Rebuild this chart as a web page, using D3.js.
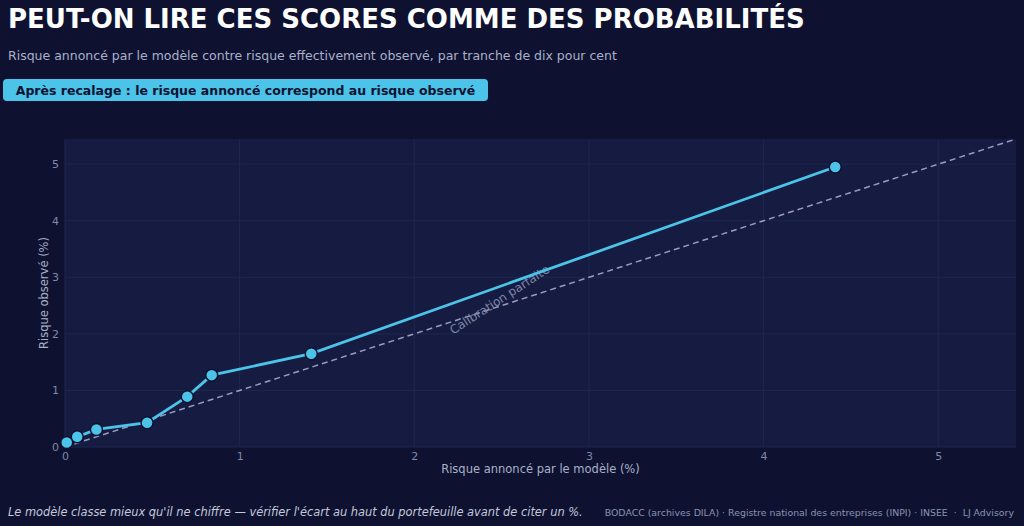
<!DOCTYPE html>
<html>
<head>
<meta charset="utf-8">
<script src="https://cdn.jsdelivr.net/npm/d3@7"></script>
<style>
  html, body { margin: 0; padding: 0; background: #0e1230; }
  svg { display: block; font-family: "DejaVu Sans", sans-serif; }
</style>
</head>
<body>
<div id="canvas"></div>
<script>
// Calibration deciles: announced risk vs observed risk (%)
const announced = [0.01, 0.07, 0.18, 0.47, 0.70, 0.84, 1.41, 4.41];
const observed  = [0.08, 0.18, 0.31, 0.43, 0.89, 1.27, 1.65, 4.95];
const xTicks = [0, 1, 2, 3, 4, 5];
const yTicks = [0, 1, 2, 3, 4, 5];

const W = 1024, H = 526;
const margin = { left: 65, right: 8, top: 139, bottom: 79 };
const ACCENT = "#4cc3e8";

const svg = d3.select("#canvas").append("svg").attr("width", W).attr("height", H);
svg.append("rect").attr("width", W).attr("height", H).attr("fill", "#0e1230");

// Titles
svg.append("text").attr("x", 8).attr("y", 28)
    .attr("fill", "#ffffff").attr("font-size", 26).attr("font-weight", "bold")
    .text("PEUT-ON LIRE CES SCORES COMME DES PROBABILITÉS");
svg.append("text").attr("x", 8).attr("y", 60)
    .attr("fill", "#a9b0c9").attr("font-size", 12.5)
    .text("Risque annoncé par le modèle contre risque effectivement observé, par tranche de dix pour cent");

// Badge
svg.append("rect").attr("x", 3).attr("y", 79).attr("width", 485).attr("height", 22)
    .attr("rx", 4).attr("fill", ACCENT);
svg.append("text").attr("x", 245.5).attr("y", 94.5).attr("text-anchor", "middle")
    .attr("fill", "#0e1230").attr("font-size", 12.5).attr("font-weight", "bold")
    .text("Après recalage : le risque annoncé correspond au risque observé");

// Scales
const maxV = d3.max(observed) * 1.1;
const x = d3.scaleLinear().domain([0, maxV]).range([margin.left, W - margin.right]);
const y = d3.scaleLinear().domain([0, maxV]).range([H - margin.bottom, margin.top]);

// Plot background
svg.append("rect")
    .attr("x", x(0)).attr("y", y(maxV))
    .attr("width", x(maxV) - x(0)).attr("height", y(0) - y(maxV))
    .attr("fill", "#161c41");

// Grid
svg.append("g").selectAll("line").data(xTicks).join("line")
    .attr("x1", d => x(d)).attr("x2", d => x(d))
    .attr("y1", y(0)).attr("y2", y(maxV))
    .attr("stroke", "#1f274f").attr("stroke-width", 1);
svg.append("g").selectAll("line").data(yTicks).join("line")
    .attr("x1", x(0)).attr("x2", x(maxV))
    .attr("y1", d => y(d)).attr("y2", d => y(d))
    .attr("stroke", "#1f274f").attr("stroke-width", 1);

// Axes
const xAxis = svg.append("g").attr("transform", `translate(0,${y(0)})`)
    .call(d3.axisBottom(x).tickValues(xTicks).tickSize(0).tickPadding(5).tickFormat(d3.format("d")));
const yAxis = svg.append("g").attr("transform", `translate(${x(0)},0)`)
    .call(d3.axisLeft(y).tickValues(yTicks).tickSize(0).tickPadding(6).tickFormat(d3.format("d")));
[xAxis, yAxis].forEach(a => {
    a.select(".domain").remove();
    a.selectAll("text").attr("fill", "#7f88a8").attr("font-size", 11)
        .attr("font-family", "DejaVu Sans, sans-serif");
});

svg.append("text").attr("x", (x(0) + x(maxV)) / 2).attr("y", 473)
    .attr("text-anchor", "middle").attr("fill", "#a9b0c9").attr("font-size", 11.5)
    .text("Risque annoncé par le modèle (%)");
svg.append("text")
    .attr("transform", `translate(48,${(y(0) + y(maxV)) / 2}) rotate(-90)`)
    .attr("text-anchor", "middle").attr("fill", "#a9b0c9").attr("font-size", 11.5)
    .text("Risque observé (%)");

// Perfect calibration diagonal
svg.append("line")
    .attr("x1", x(0)).attr("y1", y(0)).attr("x2", x(maxV)).attr("y2", y(maxV))
    .attr("stroke", "#9c9bbd").attr("stroke-width", 1.5).attr("stroke-dasharray", "6,4");
svg.append("text")
    .attr("transform", `translate(${x(2.49)},${y(2.49) - 6}) rotate(-33)`)
    .attr("text-anchor", "middle").attr("dominant-baseline", "middle")
    .attr("fill", "#7d84a8").attr("font-size", 12)
    .text("Calibration parfaite");

// Calibration curve
const pts = announced.map((a, i) => [a, observed[i]]);
svg.append("path").datum(pts)
    .attr("d", d3.line().x(d => x(d[0])).y(d => y(d[1])))
    .attr("fill", "none").attr("stroke", ACCENT).attr("stroke-width", 2.8);
svg.append("g").selectAll("circle").data(pts).join("circle")
    .attr("cx", d => x(d[0])).attr("cy", d => y(d[1])).attr("r", 6)
    .attr("fill", ACCENT).attr("stroke", "#0e1230").attr("stroke-width", 1.5);

// Footer
svg.append("text").attr("x", 8).attr("y", 516)
    .attr("fill", "#c3c8da").attr("font-size", 11.4).attr("font-style", "italic")
    .text("Le modèle classe mieux qu'il ne chiffre — vérifier l'écart au haut du portefeuille avant de citer un %.");
svg.append("text").attr("x", 1014).attr("y", 516).attr("text-anchor", "end")
    .attr("fill", "#8a92b2").attr("font-size", 9.4).style("white-space", "pre")
    .text("BODACC (archives DILA) · Registre national des entreprises (INPI) · INSEE  ·  LJ Advisory");
</script>
</body>
</html>
